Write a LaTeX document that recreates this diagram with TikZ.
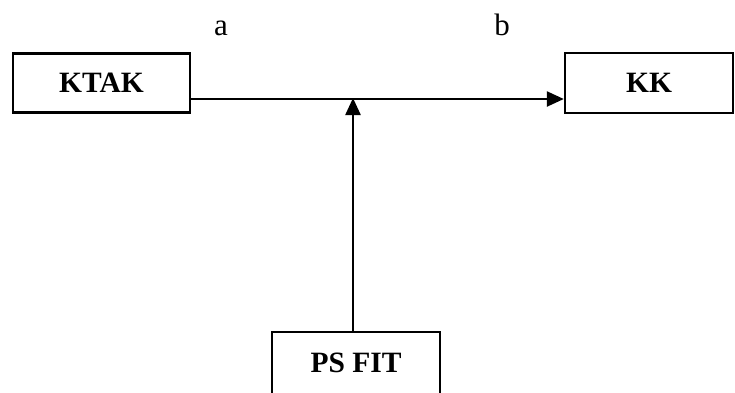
\documentclass[tikz,border=0pt]{standalone}
\usepackage{fontspec}
\setmainfont{Liberation Serif}
\usetikzlibrary{arrows.meta}
\begin{document}
\begin{tikzpicture}[x=1pt,y=-1pt,
  blockbox/.style={draw,line width=2.4pt,inner sep=0pt,font=\fontsize{29.5}{31}\selectfont\bfseries},
  conn/.style={line width=2.4pt,-{Triangle[length=17pt,width=15pt]}},
  lbl/.style={anchor=base,font=\fontsize{31}{33}\selectfont}]
\useasboundingbox (0,0) rectangle (735,392);
\node[blockbox,minimum width=177pt,minimum height=59pt] (ktak) at (101.5,83) {KTAK};
\node[blockbox,minimum width=168pt,minimum height=60pt] (kk) at (649,83) {KK};
\node[blockbox,minimum width=168pt,minimum height=66pt,text height=20pt,text depth=0pt] (psfit) at (356,365) {\raisebox{3pt}{PS FIT}};
\node[lbl] (a) at (221,35) {a};
\node[lbl] (b) at (502,35) {b};
\coordinate (hs) at ([yshift=-16pt]ktak.east);
\coordinate (he) at ([yshift=-16pt]kk.west);
\draw[conn] (hs) -- (he);
\coordinate (vs) at ([xshift=-3pt]psfit.north);
\coordinate (ve) at (vs |- hs);
\draw[conn] (vs) -- ([yshift=1pt]ve);
\end{tikzpicture}
\end{document}
